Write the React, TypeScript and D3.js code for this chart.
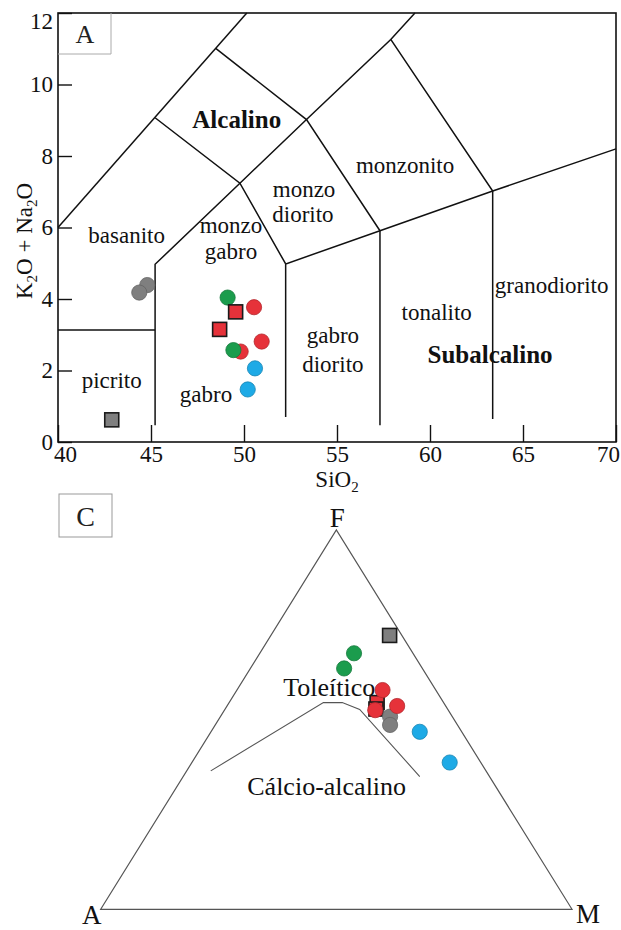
import React, { useEffect, useRef } from "react";
import * as d3 from "d3";

const W = 621;
const H = 930;
const FONT = "'Liberation Serif', 'Times New Roman', serif";

// ---- Panel A: TAS (SiO2 vs K2O + Na2O) ----
const sio2Ticks = [40, 45, 50, 55, 60, 65, 70];
const alkTicks = [0, 2, 4, 6, 8, 10, 12];

// field boundaries, in (SiO2, alkalis)
const fieldLines: [number, number][][] = [
  [[40, 6], [50.15, 12]],
  [[45.22, 9.07], [49.78, 7.24], [52.24, 4.98]],
  [[48.48, 11.01], [53.36, 9.02], [57.31, 5.91]],
  [[45.22, 0.47], [45.22, 4.97], [49.78, 7.24], [53.36, 9.02], [57.89, 11.26], [59.19, 12]],
  [[57.89, 11.26], [63.37, 7.02], [63.37, 0.64]],
  [[40, 3.13], [45.22, 3.13]],
  [[52.24, 0.7], [52.24, 4.98], [57.31, 5.91], [63.37, 7.02], [70, 8.2]],
  [[57.31, 5.91], [57.31, 0.47]],
];

const fieldLabels = [
  { text: "Alcalino", si: 49.61, alk: 8.78, bold: true },
  { text: "basanito", si: 43.69, alk: 5.57, bold: false },
  { text: "monzo", si: 49.3, alk: 5.84, bold: false },
  { text: "gabro", si: 49.3, alk: 5.12, bold: false },
  { text: "monzo", si: 53.23, alk: 6.86, bold: false },
  { text: "diorito", si: 53.17, alk: 6.16, bold: false },
  { text: "monzonito", si: 58.66, alk: 7.52, bold: false },
  { text: "gabro", si: 54.78, alk: 2.76, bold: false },
  { text: "diorito", si: 54.78, alk: 1.97, bold: false },
  { text: "tonalito", si: 60.36, alk: 3.41, bold: false },
  { text: "granodiorito", si: 66.54, alk: 4.16, bold: false },
  { text: "Subalcalino", si: 63.23, alk: 2.2, bold: true },
  { text: "picrito", si: 42.89, alk: 1.5, bold: false },
  { text: "gabro", si: 47.96, alk: 1.13, bold: false },
];

const groupColors: Record<string, string> = {
  gray: "#7f7f7f",
  green: "#1b9c4d",
  red: "#e6323a",
  blue: "#1eaae6",
};

const tasCircles = [
  { group: "gray", si: 44.8, alk: 4.39 },
  { group: "gray", si: 44.37, alk: 4.18 },
  { group: "red", si: 50.54, alk: 3.77 },
  { group: "red", si: 50.95, alk: 2.81 },
  { group: "red", si: 49.82, alk: 2.53 },
  { group: "green", si: 49.12, alk: 4.04 },
  { group: "green", si: 49.43, alk: 2.57 },
  { group: "blue", si: 50.59, alk: 2.06 },
  { group: "blue", si: 50.2, alk: 1.47 },
];

const tasSquares = [
  { group: "gray", si: 42.89, alk: 0.62 },
  { group: "red", si: 49.55, alk: 3.64 },
  { group: "red", si: 48.69, alk: 3.15 },
];

// ---- Panel C: AFM (A, F, M in %) ----
const afmSquares = [
  { group: "gray", a: 2.6, f: 72.2, m: 25.2 },
  { group: "red", a: 14.1, f: 54.5, m: 31.4 },
  { group: "red", a: 15.2, f: 52.8, m: 32.0 },
];

const afmCircles = [
  { group: "gray", a: 13.2, f: 50.8, m: 36.0 },
  { group: "gray", a: 14.3, f: 48.6, m: 37.1 },
  { group: "blue", a: 8.9, f: 46.8, m: 44.3 },
  { group: "blue", a: 6.6, f: 38.7, m: 54.7 },
  { group: "green", a: 12.5, f: 67.5, m: 20.0 },
  { group: "green", a: 16.6, f: 63.5, m: 19.9 },
  { group: "red", a: 11.3, f: 57.8, m: 30.9 },
  { group: "red", a: 10.3, f: 53.6, m: 36.1 },
  { group: "red", a: 15.5, f: 52.5, m: 32.0 },
];

// tholeiitic / calc-alkaline divide
const afmBoundary: [number, number, number][] = [
  [58.4, 36.5, 5.1],
  [25.5, 54.5, 20.0],
  [21.5, 54.5, 24.0],
  [18.7, 52.7, 28.6],
  [14.8, 35.0, 50.2],
];

const afmLabels = [
  { text: "Toleítico", a: 23.4, f: 56.2, m: 20.4 },
  { text: "Cálcio-alcalino", a: 37.0, f: 30.1, m: 32.9 },
];

const App = () => {
  const ref = useRef<SVGSVGElement>(null);

  useEffect(() => {
    const svg = d3.select(ref.current);
    svg.selectAll("*").remove();

    // ================= Panel A =================
    const x = d3.scaleLinear().domain([40, 70]).range([58, 616]);
    const y = d3.scaleLinear().domain([0, 12]).range([442, 13]);
    const gA = svg.append("g");

    const line = d3
      .line<[number, number]>()
      .x((d) => x(d[0]))
      .y((d) => y(d[1]));

    gA.selectAll("path.field")
      .data(fieldLines)
      .join("path")
      .attr("class", "field")
      .attr("d", line)
      .attr("fill", "none")
      .attr("stroke", "#111")
      .attr("stroke-width", 1.5);

    gA.selectAll("text.field")
      .data(fieldLabels)
      .join("text")
      .attr("class", "field")
      .attr("x", (d) => x(d.si))
      .attr("y", (d) => y(d.alk))
      .attr("text-anchor", "middle")
      .attr("font-family", FONT)
      .attr("font-size", (d) => (d.bold ? 25 : 23))
      .attr("font-weight", (d) => (d.bold ? "bold" : "normal"))
      .attr("fill", "#111")
      .text((d) => d.text);

    // axes with inward ticks
    const yAxis = gA
      .append("g")
      .attr("transform", `translate(${x(40)},0)`)
      .call(d3.axisLeft(y).tickValues(alkTicks).tickSizeInner(-14).tickSizeOuter(0).tickPadding(5));
    const xAxis = gA
      .append("g")
      .attr("transform", `translate(0,${y(0)})`)
      .call(d3.axisBottom(x).tickValues(sio2Ticks).tickSizeInner(-17).tickSizeOuter(0).tickPadding(4));

    [yAxis, xAxis].forEach((ax) => {
      ax.attr("font-family", FONT).attr("font-size", 23);
      ax.select(".domain").remove();
      ax.selectAll(".tick line").attr("stroke", "#111").attr("stroke-width", 1.4);
      ax.selectAll(".tick text").attr("fill", "#111");
    });
    xAxis.selectAll<SVGTextElement, number>(".tick text").attr("dx", (d) => (d === 40 ? 7 : d === 70 ? -8 : 0));
    // top label sits a little lower, as in the figure
    yAxis.selectAll<SVGTextElement, number>(".tick text").attr("y", (d) => (d === 12 ? 8 : 0));

    // frame
    gA.append("rect")
      .attr("x", x(40))
      .attr("y", y(12))
      .attr("width", x(70) - x(40))
      .attr("height", y(0) - y(12))
      .attr("fill", "none")
      .attr("stroke", "#111")
      .attr("stroke-width", 1.6);

    // panel tag "A"
    gA.append("path")
      .attr("d", `M${x(40)},54H111V${y(12)}`)
      .attr("fill", "none")
      .attr("stroke", "#aaa")
      .attr("stroke-width", 1);
    gA.append("text")
      .attr("x", 85)
      .attr("y", 43)
      .attr("text-anchor", "middle")
      .attr("font-family", FONT)
      .attr("font-size", 26)
      .attr("fill", "#222")
      .text("A");

    // axis titles
    const yt = gA
      .append("text")
      .attr("transform", "translate(32,241) rotate(-90)")
      .attr("text-anchor", "middle")
      .attr("font-family", FONT)
      .attr("font-size", 23)
      .attr("fill", "#111");
    yt.append("tspan").text("K");
    yt.append("tspan").attr("font-size", 15).attr("dy", 5).text("2");
    yt.append("tspan").attr("dy", -5).text("O + Na");
    yt.append("tspan").attr("font-size", 15).attr("dy", 5).text("2");
    yt.append("tspan").attr("dy", -5).text("O");

    const xt = gA
      .append("text")
      .attr("x", 337)
      .attr("y", 487)
      .attr("text-anchor", "middle")
      .attr("font-family", FONT)
      .attr("font-size", 23)
      .attr("fill", "#111");
    xt.append("tspan").text("SiO");
    xt.append("tspan").attr("font-size", 15).attr("dy", 5).text("2");

    // samples
    gA.selectAll("circle.s")
      .data(tasCircles)
      .join("circle")
      .attr("class", "s")
      .attr("cx", (d) => x(d.si))
      .attr("cy", (d) => y(d.alk))
      .attr("r", 7.6)
      .attr("fill", (d) => groupColors[d.group])
      .attr("stroke", (d) => d3.color(groupColors[d.group])!.darker(0.7).formatHex())
      .attr("stroke-width", 0.8);

    gA.selectAll("rect.s")
      .data(tasSquares)
      .join("rect")
      .attr("class", "s")
      .attr("x", (d) => x(d.si) - 7)
      .attr("y", (d) => y(d.alk) - 7)
      .attr("width", 14)
      .attr("height", 14)
      .attr("fill", (d) => groupColors[d.group])
      .attr("stroke", "#1a1a1a")
      .attr("stroke-width", 1.6);

    // ================= Panel C =================
    const tx = d3.scaleLinear().domain([0, 1]).range([100.7, 572]);
    const ty = d3.scaleLinear().domain([0, 1]).range([909.3, 530]);
    const proj = (a: number, f: number, m: number): [number, number] => {
      const s = a + f + m;
      return [tx((m + f / 2) / s), ty(f / s)];
    };
    const gC = svg.append("g");

    const tri = [proj(100, 0, 0), proj(0, 100, 0), proj(0, 0, 100)];
    gC.append("path")
      .attr("d", d3.line()(tri) + "Z")
      .attr("fill", "none")
      .attr("stroke", "#555")
      .attr("stroke-width", 1.2);

    gC.append("path")
      .attr("d", d3.line()(afmBoundary.map((d) => proj(d[0], d[1], d[2]))))
      .attr("fill", "none")
      .attr("stroke", "#555")
      .attr("stroke-width", 1.1);

    gC.selectAll("text.zone")
      .data(afmLabels)
      .join("text")
      .attr("class", "zone")
      .attr("x", (d) => proj(d.a, d.f, d.m)[0])
      .attr("y", (d) => proj(d.a, d.f, d.m)[1])
      .attr("text-anchor", "middle")
      .attr("font-family", FONT)
      .attr("font-size", 26)
      .attr("fill", "#111")
      .text((d) => d.text);

    const vertexLabels = [
      { text: "A", p: tri[0], dx: -9, dy: 15 },
      { text: "F", p: tri[1], dx: 1, dy: -3 },
      { text: "M", p: tri[2], dx: 16, dy: 14 },
    ];
    gC.selectAll("text.vertex")
      .data(vertexLabels)
      .join("text")
      .attr("class", "vertex")
      .attr("x", (d) => d.p[0] + d.dx)
      .attr("y", (d) => d.p[1] + d.dy)
      .attr("text-anchor", "middle")
      .attr("font-family", FONT)
      .attr("font-size", 27)
      .attr("fill", "#111")
      .text((d) => d.text);

    // panel tag "C"
    gC.append("rect")
      .attr("x", 59)
      .attr("y", 494)
      .attr("width", 53)
      .attr("height", 43)
      .attr("fill", "none")
      .attr("stroke", "#999")
      .attr("stroke-width", 1);
    gC.append("text")
      .attr("x", 85.5)
      .attr("y", 526)
      .attr("text-anchor", "middle")
      .attr("font-family", FONT)
      .attr("font-size", 28)
      .attr("fill", "#222")
      .text("C");

    gC.selectAll("rect.s")
      .data(afmSquares)
      .join("rect")
      .attr("class", "s")
      .attr("x", (d) => proj(d.a, d.f, d.m)[0] - 7)
      .attr("y", (d) => proj(d.a, d.f, d.m)[1] - 7)
      .attr("width", 14)
      .attr("height", 14)
      .attr("fill", (d) => groupColors[d.group])
      .attr("stroke", "#1a1a1a")
      .attr("stroke-width", 1.6);

    gC.selectAll("circle.s")
      .data(afmCircles)
      .join("circle")
      .attr("class", "s")
      .attr("cx", (d) => proj(d.a, d.f, d.m)[0])
      .attr("cy", (d) => proj(d.a, d.f, d.m)[1])
      .attr("r", 7.6)
      .attr("fill", (d) => groupColors[d.group])
      .attr("stroke", (d) => d3.color(groupColors[d.group])!.darker(0.7).formatHex())
      .attr("stroke-width", 0.8);
  }, []);

  return (
    <svg
      ref={ref}
      width={W}
      height={H}
      style={{ position: "absolute", left: 0, top: 0, background: "#fff" }}
    />
  );
};

export default App;
